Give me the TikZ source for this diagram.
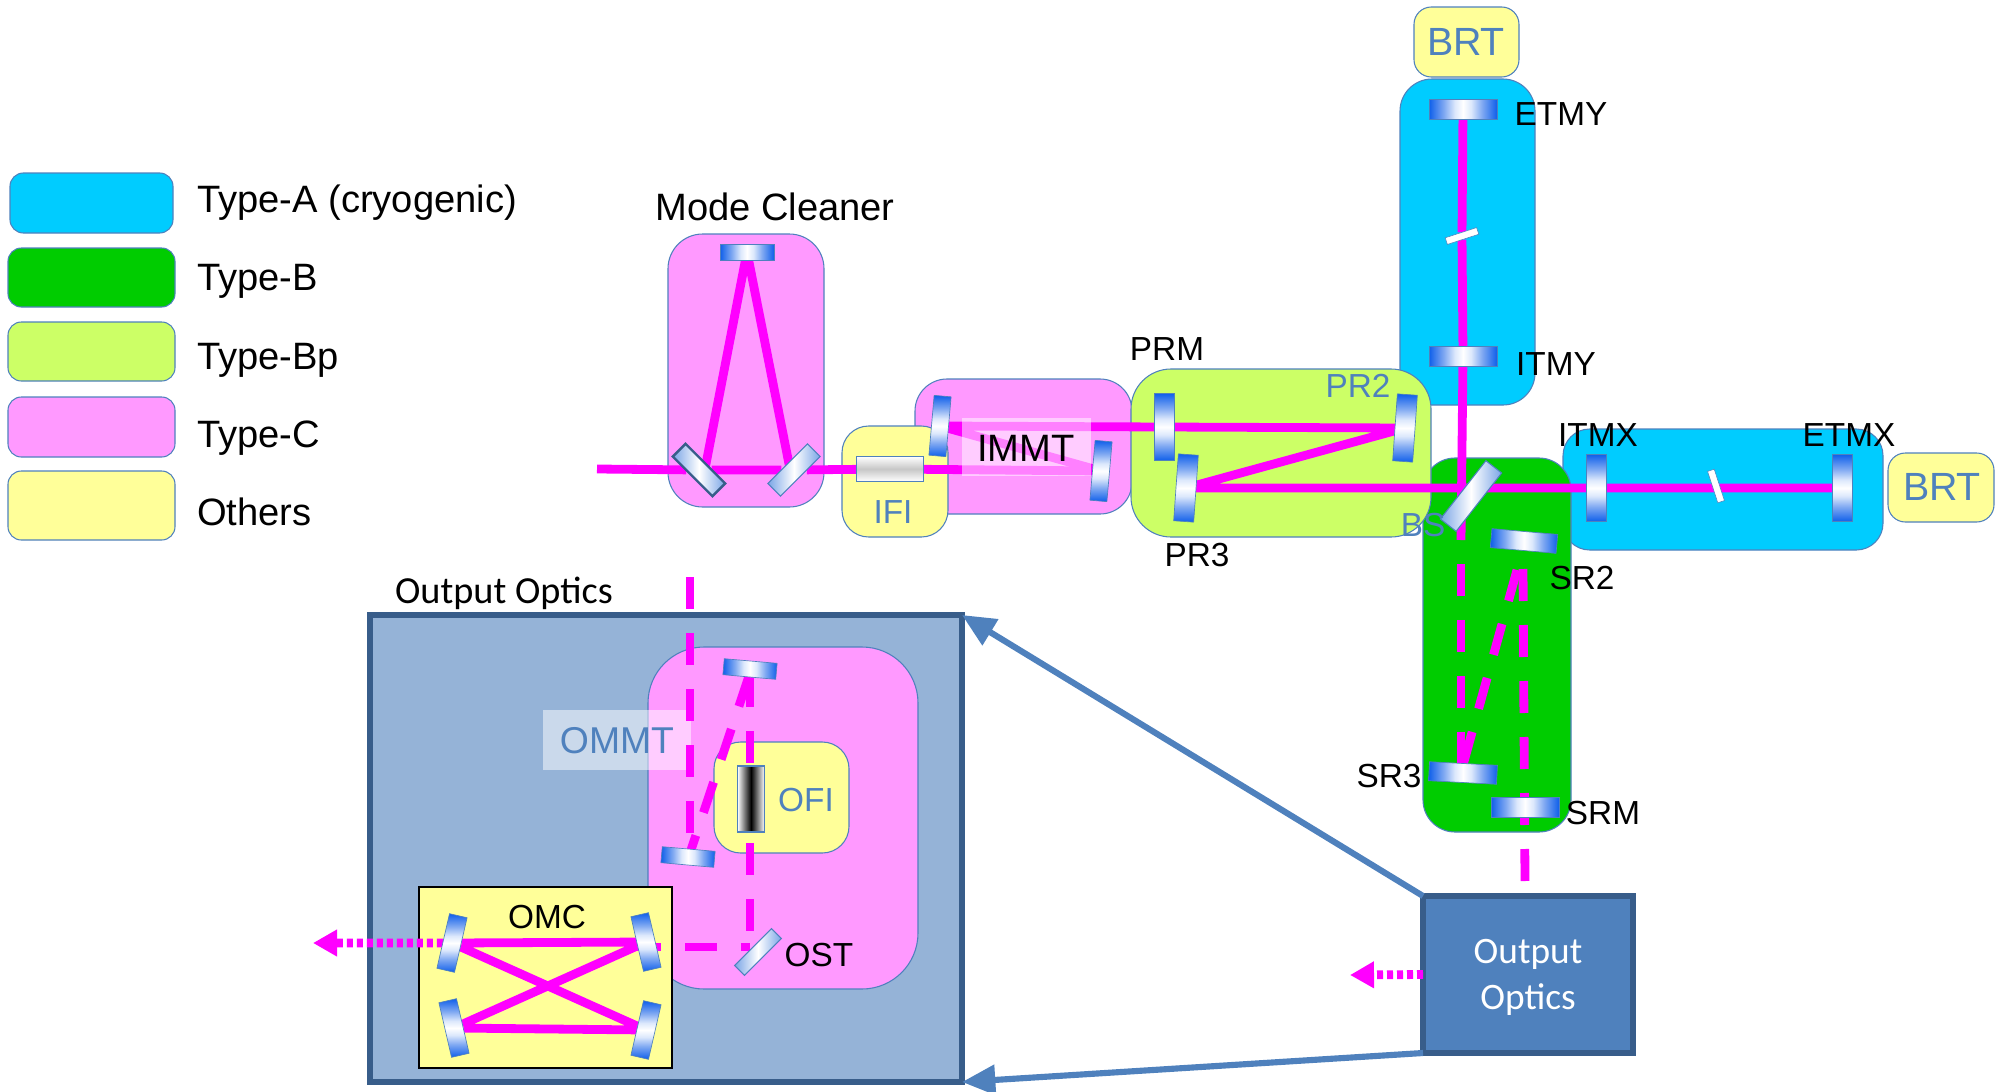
\documentclass[tikz,border=0pt]{standalone}
\usepackage{fontspec}
\setmainfont{Liberation Sans}
\newfontfamily\calib{Carlito}
\usetikzlibrary{arrows.meta}
\pgfdeclarelayer{front}
\pgfsetlayers{main,front}
\definecolor{zb}{HTML}{4F81BD}
\definecolor{zdark}{HTML}{385D8A}
\definecolor{cA}{HTML}{00CCFF}
\definecolor{cB}{HTML}{00CC00}
\definecolor{cBp}{HTML}{CCFF66}
\definecolor{cC}{HTML}{FF99FF}
\definecolor{cO}{HTML}{FFFF99}
\definecolor{beamc}{HTML}{FF00FF}
\definecolor{mblue}{HTML}{0F5FEA}
\definecolor{mmid}{HTML}{80A9F2}
\definecolor{mlit}{HTML}{DCE8FC}
\definecolor{mpale}{HTML}{7AA5E6}
\definecolor{oview}{HTML}{95B3D7}
\pgfdeclarehorizontalshading{mirh}{100bp}{color(0bp)=(mblue);color(25bp)=(mblue);color(36bp)=(mmid);color(44bp)=(mlit);color(50bp)=(white);color(56bp)=(mlit);color(64bp)=(mmid);color(75bp)=(mblue);color(100bp)=(mblue)}
\pgfdeclareverticalshading{mirv}{100bp}{color(0bp)=(mblue);color(25bp)=(mblue);color(36bp)=(mmid);color(44bp)=(mlit);color(50bp)=(white);color(56bp)=(mlit);color(64bp)=(mmid);color(75bp)=(mblue);color(100bp)=(mblue)}
\tikzset{
  zone/.style={draw=zb,line width=0.8pt,inner sep=0pt,outer sep=0pt},
  mh/.style={draw=zb,line width=0.5pt,inner sep=0pt,outer sep=0pt,shading=mirh},
  mv/.style={draw=zb,line width=0.5pt,inner sep=0pt,outer sep=0pt,shading=mirv},
  mp/.style={draw=zb,line width=0.8pt,inner sep=0pt,outer sep=0pt,left color=mpale,right color=mpale,middle color=white},
  plate/.style={draw=zb,line width=0.4pt,fill=white,inner sep=0pt,outer sep=0pt},
  beam/.style={draw=beamc,line width=6.6pt},
  dbeam/.style={beam,dash pattern=on 24pt off 18pt},
  dotb/.style={draw=beamc,line width=6.6pt,dash pattern=on 4.5pt off 3pt,-{Triangle[length=18pt,width=19pt,fill=beamc]}},
  big/.style={draw=zb,line width=4.6pt,-{Triangle[length=25pt,width=22pt,fill=zb]}},
  lg/.style={font=\fontsize{28.6}{34}\selectfont,text=black,inner sep=0pt,outer sep=0pt},
  lb/.style={font=\fontsize{25}{30}\selectfont,text=black,inner sep=0pt,outer sep=0pt},
  lz/.style={font=\fontsize{29.5}{34}\selectfont,text=zb,inner sep=0pt,outer sep=0pt},
  lzs/.style={font=\fontsize{25}{30}\selectfont,text=zb,inner sep=0pt,outer sep=0pt},
}
\newcommand{\zn}[6]{\node[#6,minimum width={(#4-#2)*0.75pt},minimum height={(#5-#3)*0.75pt}] (#1) at ({(#2+#4)/2},{(#3+#5)/2}) {};}
\newcommand{\mir}[7]{\node[#7,minimum width={#4*0.75pt},minimum height={#5*0.75pt},rotate=#6] (#1) at (#2,#3) {};}
\begin{document}
\begin{tikzpicture}[x=0.75pt,y=-0.75pt]
\useasboundingbox (0,0) rectangle (2006,1092);
% legend
\zn{legA}{10}{173}{173}{233}{zone,fill=cA,rounded corners=10pt}
\zn{legB}{8}{248}{175}{307}{zone,fill=cB,rounded corners=10pt}
\zn{legBp}{8}{322}{175}{381}{zone,fill=cBp,rounded corners=10pt}
\zn{legC}{8}{397}{175}{457}{zone,fill=cC,rounded corners=10pt}
\zn{legO}{8}{471}{175}{540}{zone,fill=cO,rounded corners=10pt}
\node[lg,anchor=west] (tA) at (197,203) {Type-A (cryogenic)};
\node[lg,anchor=west] (tB) at (197,281) {Type-B};
\node[lg,anchor=west] (tBp) at (197,360) {Type-Bp};
\node[lg,anchor=west] (tC) at (197,438) {Type-C};
\node[lg,anchor=west] (tO) at (197,512) {Others};
% zones
\zn{yarm}{1400}{79}{1535}{405}{zone,fill=cA,rounded corners=24pt}
\zn{xarm}{1563}{429}{1883}{550}{zone,fill=cA,rounded corners=20pt}
\zn{srbox}{1423}{458}{1571}{832}{zone,fill=cB,rounded corners=24pt}
\zn{immt}{915}{379}{1132}{514}{zone,fill=cC,rounded corners=24pt}
\zn{bpbox}{1131}{369}{1431}{537}{zone,fill=cBp,rounded corners=30pt}
\zn{brty}{1414}{7}{1519}{77}{zone,fill=cO,rounded corners=13pt}
\zn{brtx}{1888}{453}{1994}{522}{zone,fill=cO,rounded corners=13pt}
\zn{mcbox}{668}{234}{824}{507}{zone,fill=cC,rounded corners=26pt}
\zn{ifi}{842}{426}{948}{537}{zone,fill=cO,rounded corners=20pt}
% output optics detail
\zn{ovw}{370}{615}{962}{1082}{draw=zdark,line width=4.5pt,fill=oview,inner sep=0pt,outer sep=0pt}
\zn{ommt}{648}{647}{918}{989}{zone,fill=cC,rounded corners=42pt}
\zn{ofi}{714}{742}{849}{853}{zone,fill=cO,rounded corners=20pt}
\zn{ommtw}{543}{710}{691}{770}{fill=white,fill opacity=0.5,inner sep=0pt,outer sep=0pt}
\zn{omc}{419}{887}{672}{1068}{draw=black,line width=0.8pt,fill=cO,inner sep=0pt,outer sep=0pt}
\zn{oo}{1423}{896}{1633}{1053}{draw=zdark,line width=4.5pt,fill=zb,inner sep=0pt,outer sep=0pt}
% mirrors
\begin{pgfonlayer}{front}
\mir{mct}{747}{252}{54}{16}{0}{mh}
\mir{mcl}{699}{470}{56}{18}{-45}{mp,draw=zdark,line width=1.8pt}
\mir{mcr}{794}{470}{56}{18}{45}{mp}
\node[draw=zb,line width=0.8pt,inner sep=0pt,outer sep=0pt,top color=white,bottom color=white,middle color=black!22,minimum width={67*0.75pt},minimum height={25*0.75pt}] (ifiel) at (890,469) {};
\mir{mm1}{940}{426}{17}{60}{-5}{mv}
\mir{mm2}{1101}{471}{17}{60}{-5}{mv}
\mir{prm}{1164}{427}{20}{67}{0}{mv}
\mir{pr2}{1405}{428}{20}{67}{-4}{mv}
\mir{pr3}{1186}{488}{20}{67}{-4}{mv}
\mir{bs}{1471}{496}{74}{20}{52}{mp}
\mir{itmx}{1596}{488}{20}{67}{0}{mv}
\mir{etmx}{1842}{488}{20}{67}{0}{mv}
\mir{etmy}{1463}{109}{68}{20}{0}{mh}
\mir{itmy}{1463}{356}{68}{20}{0}{mh}
\mir{sr2}{1524}{541}{66}{19}{-5}{mh}
\mir{sr3}{1463}{773}{68}{19}{-3}{mh}
\mir{srm}{1525}{807}{68}{20}{0}{mh}
\mir{ply}{1462}{236}{33}{7}{18}{plate}
\mir{plx}{1716}{486}{7}{33}{18}{plate}
\mir{omt}{750}{669}{53}{16}{-5}{mh}
\mir{omb}{688}{857}{53}{16}{-5}{mh}
\mir{ost}{758}{952}{52}{14}{45}{mp}
\node[draw=zb,line width=0.8pt,inner sep=0pt,outer sep=0pt,left color=white,right color=white,middle color=black,minimum width={27*0.75pt},minimum height={66*0.75pt}] (ofiel) at (751,799) {};
\mir{otl}{452}{943}{18}{56}{-13}{mv}
\mir{otr}{646}{942}{18}{56}{13}{mv}
\mir{obl}{454}{1028}{18}{56}{13}{mv}
\mir{obr}{646}{1030}{18}{56}{-13}{mv}
% texts
\node[lg] (tmc) at (775,207) {Mode Cleaner};
\node[lg] (timmt) at (1026,448) {IMMT};
\node[lzs] (tifi) at (893,512) {IFI};
\node[lz] (tbrty) at (1466,42) {BRT};
\node[lz] (tbrtx) at (1942,487) {BRT};
\node[lb] (tetmy) at (1561,114) {ETMY};
\node[lb] (titmy) at (1556,364) {ITMY};
\node[lb] (titmx) at (1598,435) {ITMX};
\node[lb] (tetmx) at (1849,435) {ETMX};
\node[lb] (tprm) at (1167,349) {PRM};
\node[lzs] (tpr2) at (1358,386) {PR2};
\node[lb] (tpr3) at (1197,555) {PR3};
\node[lzs] (tbs) at (1423,525) {BS};
\node[lb] (tsr2) at (1582,578) {SR2};
\node[lb] (tsr3) at (1389,776) {SR3};
\node[lb] (tsrm) at (1603,813) {SRM};
\node[font=\fontsize{28}{34}\selectfont,text=zb,inner sep=0pt,outer sep=0pt] (tommt) at (617,741) {OMMT};
\node[lzs] (tofi) at (806,800) {OFI};
\node[lb] (tomc) at (547,917) {OMC};
\node[lb] (tost) at (819,955) {OST};
\node[font=\calib\fontsize{28.7}{34}\selectfont,inner sep=0pt,outer sep=0pt] (toview) at (504,593) {Output Optics};
\node[font=\calib\fontsize{28}{34.5}\selectfont,text=white,align=center,inner sep=0pt,outer sep=0pt] (toobox) at ([yshift=-2.2pt]oo) {Output\\Optics};
\end{pgfonlayer}
% free ends
\coordinate (inb) at (597,469);
\coordinate (mclb) at (705,469);
\coordinate (mcrb) at (790,469);
\coordinate (bsa) at (1461,540);
\coordinate (bsb) at (1461,564);
\coordinate (sr3l) at (1461,765);
\coordinate (sr2r) at (1523,569);
\coordinate (oot) at (1525,882);
\coordinate (sr2m) at (1517,570);
\coordinate (sr3m) at (1463,765);
\coordinate (ovt) at (690,577);
\coordinate (ovb) at (690,848);
\coordinate (ovta) at (750,675);
\coordinate (ostt) at (750,932);
\coordinate (omta) at (749,676);
\coordinate (omba) at (691,850);
\coordinate (ostl) at (750,947);
\coordinate (otrs) at (629,947);
\coordinate (tipa) at (1350,975);
\coordinate (tipb) at (313,943);
% beams
\draw[beam] (inb) -- (mcl) -- (mcr) -- (ifiel) -- (mm2);
\draw[beam] (mclb) -- (mct) -- (mcrb);
\draw[beam] (mm2) -- (mm1) -- (prm) -- (pr2) -- (pr3) -- (itmx) -- (etmx);
\draw[beam] (etmy) -- (ply) -- (itmy) -- (bsa);
\draw[dbeam] (bsb) -- (sr3l);
\draw[dbeam] (sr2r) -- (oot);
\draw[dbeam] (sr2m) -- (sr3m);
\draw[dbeam] (ovt) -- (ovb);
\draw[dbeam] (ovta) -- (ostt);
\draw[dbeam] (omta) -- (omba);
\draw[dbeam] (otrs) -- (ostl);
\draw[beam] (otl) -- (otr) -- (obl) -- (obr) -- (otl);
% overlay on IMMT
\zn{immtw}{962}{418}{1091}{476}{fill=white,fill opacity=0.5,inner sep=0pt,outer sep=0pt}
% arrows
\draw[dotb] (oo.west) -- (tipa);
\draw[dotb] (otl) -- (tipb);
\draw[big] (oo.north west) -- (ovw.north east);
\draw[big] (oo.south west) -- (ovw.south east);
\end{tikzpicture}
\end{document}
